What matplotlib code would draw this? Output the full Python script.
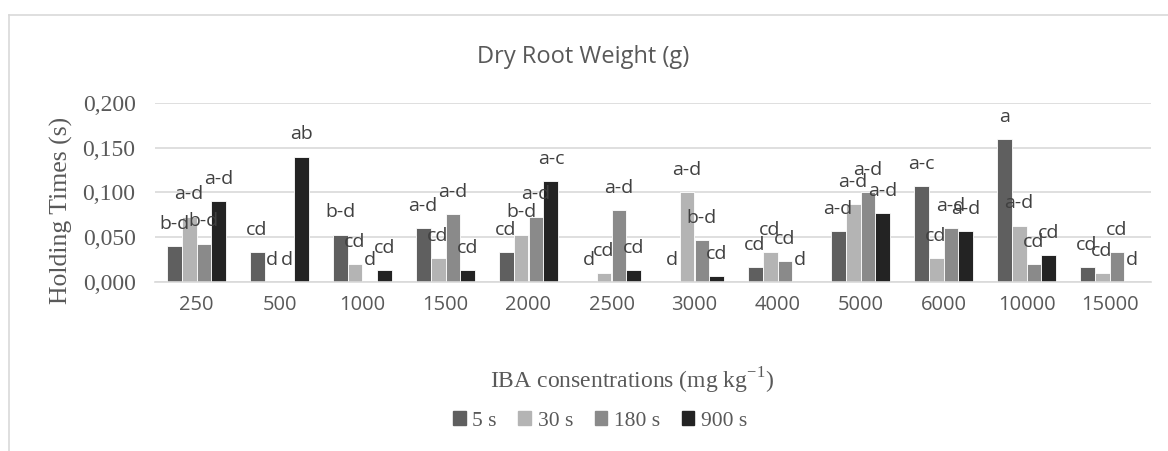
import numpy as np
import matplotlib.pyplot as plt
from matplotlib.lines import Line2D

concentrations = ["250", "500", "1000", "1500", "2000", "2500",
                  "3000", "4000", "5000", "6000", "10000", "15000"]
series = ["5 s", "30 s", "180 s", "900 s"]

s5 = [0.040, 0.033, 0.053, 0.060, 0.033, 0.000, 0.000, 0.017, 0.057, 0.107, 0.160, 0.017]
s30 = [0.073, 0.000, 0.020, 0.027, 0.053, 0.010, 0.100, 0.033, 0.087, 0.027, 0.063, 0.010]
s180 = [0.043, 0.000, 0.000, 0.076, 0.073, 0.080, 0.047, 0.023, 0.100, 0.060, 0.020, 0.033]
s900 = [0.090, 0.140, 0.013, 0.013, 0.113, 0.013, 0.007, 0.000, 0.077, 0.057, 0.030, 0.000]

lab5 = ["b-d", "cd", "b-d", "a-d", "cd", "d", "d", "cd", "a-d", "a-c", "a", "cd"]
lab30 = ["a-d", "d", "cd", "cd", "b-d", "cd", "a-d", "cd", "a-d", "cd", "a-d", "cd"]
lab180 = ["b-d", "d", "d", "a-d", "a-d", "a-d", "b-d", "cd", "a-d", "a-d", "cd", "cd"]
lab900 = ["a-d", "ab", "cd", "cd", "a-c", "cd", "cd", "d", "a-d", "a-d", "cd", "d"]

colors = ["#5f5f5f", "#b4b4b4", "#8a8a8a", "#232323"]

values = [s5, s30, s180, s900]
labels = [lab5, lab30, lab180, lab900]

sans = "Open Sans"
serif = "Liberation Serif"
txt = "#595959"

W, H = 1168, 451
fig = plt.figure(figsize=(W / 100, H / 100), dpi=100)
ax = fig.add_axes([155 / W, 1 - 282 / H, 996 / W, 179 / H])

x = np.arange(len(concentrations))
w = 0.18
for i, (vals, labs) in enumerate(zip(values, labels)):
    pos = x + (i - 1.5) * w
    ax.bar(pos, vals, width=w, color=colors[i], edgecolor="white", linewidth=0.6,
           label=series[i], zorder=2)
    for px, v, t in zip(pos, vals, labs):
        ax.annotate(t, (px, v), xytext=(0, 16), textcoords="offset points",
                    ha="center", va="center", fontsize=14, color="#404040",
                    family=sans, zorder=3, annotation_clip=False)

ax.set_xlim(-0.5, len(concentrations) - 0.5)
ax.set_ylim(0, 0.2)
ax.set_yticks([0, 0.05, 0.1, 0.15, 0.2])
ax.set_yticklabels(["0,000", "0,050", "0,100", "0,150", "0,200"],
                   family=serif, fontsize=17, color=txt)
ax.set_xticks(x)
ax.set_xticklabels(concentrations, family=sans, fontsize=14.5, color=txt)
ax.tick_params(axis="y", length=0, pad=14)
ax.tick_params(axis="x", length=0, pad=9)
ax.yaxis.grid(True, color="#d9d9d9", linewidth=1.2, zorder=0)
ax.set_axisbelow(True)
for s in ["top", "right", "left"]:
    ax.spines[s].set_visible(False)
ax.spines["bottom"].set_color("#d9d9d9")
ax.spines["bottom"].set_linewidth(1.2)

fig.text(61 / W, 1 - 210 / H, "Holding Times (s)", rotation=90, ha="center",
         va="center", family=serif, fontsize=18.5, color=txt)
fig.text(632 / W, 1 - 381 / H, "IBA consentrations (mg kg$^{\\mathregular{-1}}$)",
         ha="center", va="center", family=serif, fontsize=17, color=txt)

fig.text(583 / W, 1 - 57 / H, "Dry Root Weight (g)", ha="center", va="center",
         family=sans, fontsize=17, color=txt)

handles = [plt.Rectangle((0, 0), 1, 1, color=c) for c in colors]
leg = fig.legend(handles, series, loc="center", bbox_to_anchor=(600 / W, 1 - 421 / H),
                 ncol=4, frameon=False, prop={"family": serif, "size": 15.5},
                 handlelength=0.6, handleheight=0.6, handletextpad=0.3,
                 columnspacing=1.0)
for t in leg.get_texts():
    t.set_color(txt)

# chart area border (top and left edges visible)
fig.add_artist(Line2D([9 / W, 1], [1 - 15 / H, 1 - 15 / H], color="#d9d9d9", lw=1.2))
fig.add_artist(Line2D([9 / W, 9 / W], [0, 1 - 15 / H], color="#d9d9d9", lw=1.2))

fig.savefig("out.png", dpi=100)
